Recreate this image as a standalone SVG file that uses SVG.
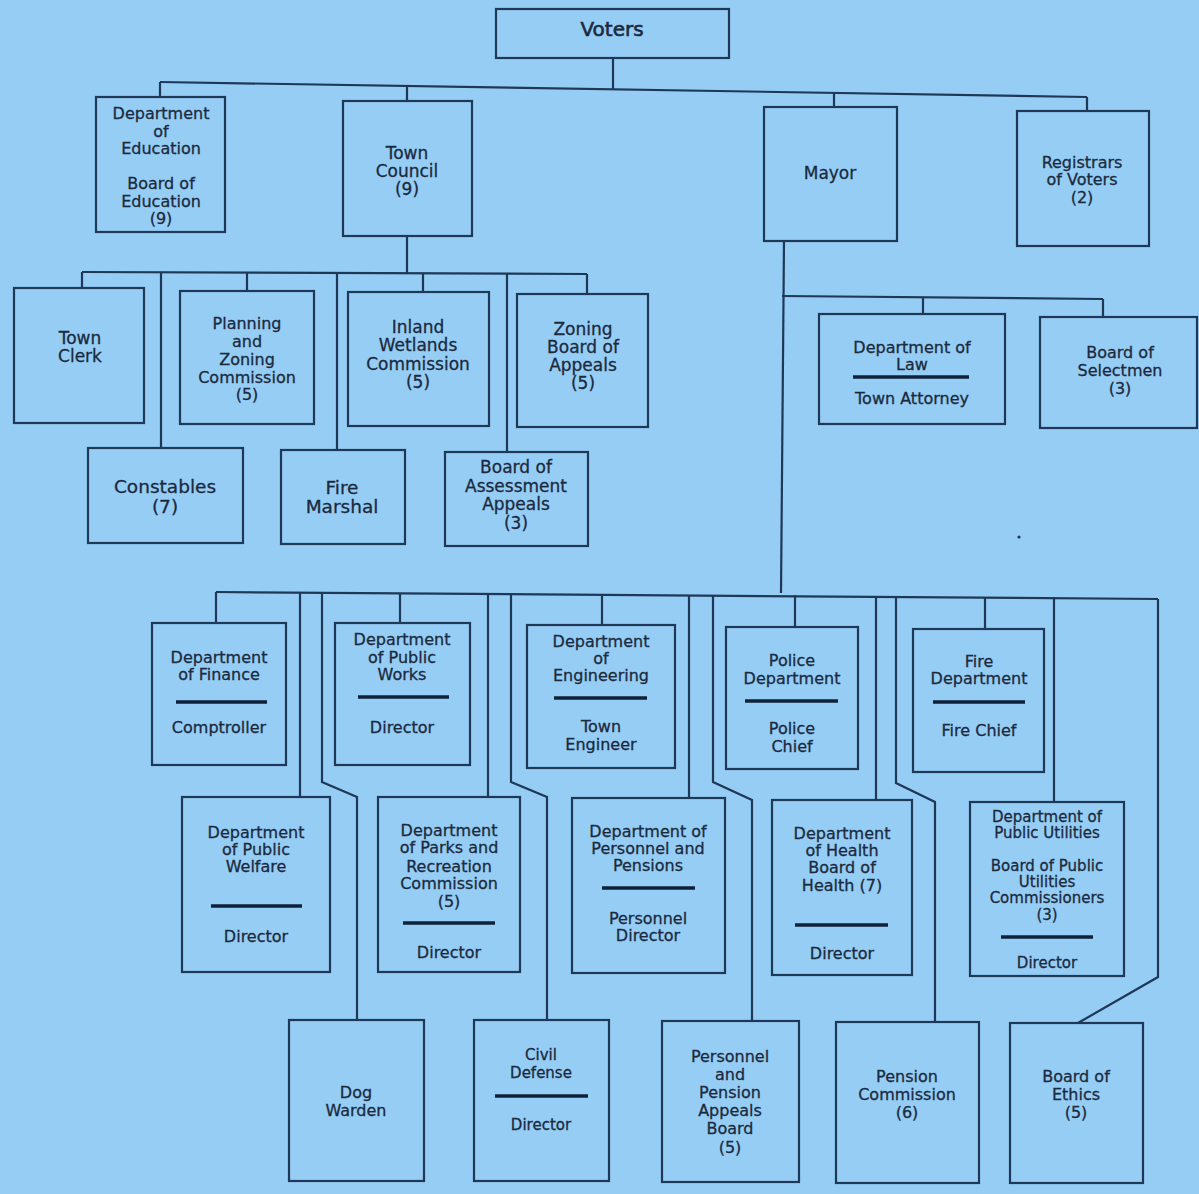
<svg xmlns="http://www.w3.org/2000/svg" width="1199" height="1194" viewBox="0 0 1199 1194">
<style>
.bx{fill:none;stroke:#1e3856;stroke-width:2.2}
.ln{fill:none;stroke:#1e3856;stroke-width:2.2;stroke-linejoin:miter}
.rule{stroke:#0f2138;stroke-width:3.5}
text{font-family:"DejaVu Sans","Liberation Sans",sans-serif;font-size:16px;fill:#1b2a3d;stroke:#1b2a3d;stroke-width:0.3;text-anchor:middle}
.s17{font-size:17px}
.s15{font-size:15px}
.s18{font-size:18.5px}
.s20{font-size:20px;stroke-width:0.6}
</style>
<rect width="1199" height="1194" fill="#95cdf5"/>
<g id="connectors">
<path class="ln" d="M613,58 V89"/>
<path class="ln" d="M160,82 L1087,97"/>
<path class="ln" d="M160,82 V97"/>
<path class="ln" d="M407,86 V101"/>
<path class="ln" d="M834,93 V107"/>
<path class="ln" d="M1087,97 V111"/>
<path class="ln" d="M407,236 V273"/>
<path class="ln" d="M82,272 L587,274"/>
<path class="ln" d="M82,272 V288"/>
<path class="ln" d="M161,272 V448"/>
<path class="ln" d="M247,273 V291"/>
<path class="ln" d="M337,273 V450"/>
<path class="ln" d="M423,273 V292"/>
<path class="ln" d="M507,273 V452"/>
<path class="ln" d="M587,274 V294"/>
<path class="ln" d="M784,241 L781,593"/>
<path class="ln" d="M782,296 L1103,299"/>
<path class="ln" d="M923,297 V314"/>
<path class="ln" d="M1103,299 V317"/>
<path class="ln" d="M216,592 L1158,599"/>
<path class="ln" d="M216,592 V623"/>
<path class="ln" d="M300,593 V797"/>
<path class="ln" d="M322,593 V782 L357,797 V1020"/>
<path class="ln" d="M400,593 V623"/>
<path class="ln" d="M488,594 V797"/>
<path class="ln" d="M511,594 V782 L547,797 V1020"/>
<path class="ln" d="M602,594 V625"/>
<path class="ln" d="M689,595 V798"/>
<path class="ln" d="M713,595 V782 L752,800 V1021"/>
<path class="ln" d="M795,595 V627"/>
<path class="ln" d="M876,596 V800"/>
<path class="ln" d="M896,596 V783 L935,802 V1022"/>
<path class="ln" d="M985,597 V629"/>
<path class="ln" d="M1054,597 V802"/>
<path class="ln" d="M1158,599 V977 L1078,1023"/>
</g>
<g id="n-voters"><rect class="bx" x="496" y="9" width="233" height="49"/><text class="s20" x="612" y="36">Voters</text></g>
<g id="n-education"><rect class="bx" x="96" y="97" width="129" height="135"/>
<text x="161" y="118.5">Department</text><text x="161" y="136.5">of</text><text x="161" y="153.5">Education</text>
<text x="161" y="188.5">Board of</text><text x="161" y="206.5">Education</text><text x="161" y="223.5">(9)</text></g>
<g id="n-council"><rect class="bx" x="343" y="101" width="129" height="135"/>
<text class="s17" x="407" y="159">Town</text><text class="s17" x="407" y="177">Council</text><text class="s17" x="407" y="195">(9)</text></g>
<g id="n-mayor"><rect class="bx" x="764" y="107" width="133" height="134"/><text class="s17" x="830" y="179">Mayor</text></g>
<g id="n-registrars"><rect class="bx" x="1017" y="111" width="132" height="135"/>
<text x="1082" y="168">Registrars</text><text x="1082" y="185">of Voters</text><text x="1082" y="203">(2)</text></g>
<g id="n-clerk"><rect class="bx" x="14" y="288" width="130" height="135"/>
<text class="s17" x="80" y="344">Town</text><text class="s17" x="80" y="362">Clerk</text></g>
<g id="n-planning"><rect class="bx" x="180" y="291" width="134" height="133"/>
<text x="247" y="329">Planning</text><text x="247" y="347">and</text><text x="247" y="365">Zoning</text><text x="247" y="383">Commission</text><text x="247" y="400">(5)</text></g>
<g id="n-wetlands"><rect class="bx" x="348" y="292" width="141" height="134"/>
<text class="s17" x="418" y="333">Inland</text><text class="s17" x="418" y="351">Wetlands</text><text class="s17" x="418" y="370">Commission</text><text class="s17" x="418" y="388">(5)</text></g>
<g id="n-zba"><rect class="bx" x="517" y="294" width="131" height="133"/>
<text class="s17" x="583" y="335">Zoning</text><text class="s17" x="583" y="353">Board of</text><text class="s17" x="583" y="371">Appeals</text><text class="s17" x="583" y="389">(5)</text></g>
<g id="n-constables"><rect class="bx" x="88" y="448" width="155" height="95"/>
<text class="s18" x="165" y="492.5">Constables</text><text class="s18" x="165" y="512.5">(7)</text></g>
<g id="n-firemarshal"><rect class="bx" x="281" y="450" width="124" height="94"/>
<text class="s18" x="342" y="494">Fire</text><text class="s18" x="342" y="513">Marshal</text></g>
<g id="n-baa"><rect class="bx" x="445" y="452" width="143" height="94"/>
<text class="s17" x="516" y="473">Board of</text><text class="s17" x="516" y="492">Assessment</text><text class="s17" x="516" y="510">Appeals</text><text class="s17" x="516" y="529">(3)</text></g>
<g id="n-law"><rect class="bx" x="819" y="314" width="186" height="110"/>
<text x="912" y="353">Department of</text><text x="912" y="370">Law</text>
<line class="rule" x1="853" y1="377" x2="969" y2="377"/><text x="912" y="404">Town Attorney</text></g>
<g id="n-selectmen"><rect class="bx" x="1040" y="317" width="157" height="111"/>
<text x="1120" y="358">Board of</text><text x="1120" y="376">Selectmen</text><text x="1120" y="394">(3)</text></g>
<circle cx="1019" cy="537" r="1.6" fill="#1e3856"/>
<g id="n-finance"><rect class="bx" x="152" y="623" width="134" height="142"/>
<text x="219" y="662.5">Department</text><text x="219" y="679.5">of Finance</text>
<line class="rule" x1="176" y1="702" x2="267" y2="702"/><text x="219" y="732.5">Comptroller</text></g>
<g id="n-works"><rect class="bx" x="335" y="623" width="135" height="142"/>
<text x="402" y="644.5">Department</text><text x="402" y="662.5">of Public</text><text x="402" y="679.5">Works</text>
<line class="rule" x1="358" y1="697" x2="449" y2="697"/><text x="402" y="732.5">Director</text></g>
<g id="n-engineering"><rect class="bx" x="527" y="625" width="148" height="143"/>
<text x="601" y="646.5">Department</text><text x="601" y="663.5">of</text><text x="601" y="680.5">Engineering</text>
<line class="rule" x1="554" y1="698" x2="647" y2="698"/><text x="601" y="731.5">Town</text><text x="601" y="749.5">Engineer</text></g>
<g id="n-police"><rect class="bx" x="726" y="627" width="132" height="142"/>
<text x="792" y="665.5">Police</text><text x="792" y="683.5">Department</text>
<line class="rule" x1="745" y1="701" x2="838" y2="701"/><text x="792" y="733.5">Police</text><text x="792" y="751.5">Chief</text></g>
<g id="n-firedept"><rect class="bx" x="913" y="629" width="131" height="143"/>
<text x="979" y="666.5">Fire</text><text x="979" y="683.5">Department</text>
<line class="rule" x1="933" y1="702" x2="1025" y2="702"/><text x="979" y="735.5">Fire Chief</text></g>
<g id="n-welfare"><rect class="bx" x="182" y="797" width="148" height="175"/>
<text x="256" y="837.5">Department</text><text x="256" y="854.5">of Public</text><text x="256" y="871.5">Welfare</text>
<line class="rule" x1="211" y1="906" x2="302" y2="906"/><text x="256" y="941.5">Director</text></g>
<g id="n-parks"><rect class="bx" x="378" y="797" width="142" height="175"/>
<text x="449" y="835.5">Department</text><text x="449" y="852.5">of Parks and</text><text x="449" y="871.5">Recreation</text><text x="449" y="888.5">Commission</text><text x="449" y="906.5">(5)</text>
<line class="rule" x1="403" y1="923" x2="495" y2="923"/><text x="449" y="957.5">Director</text></g>
<g id="n-personnel"><rect class="bx" x="572" y="798" width="153" height="175"/>
<text x="648" y="836.5">Department of</text><text x="648" y="853.5">Personnel and</text><text x="648" y="870.5">Pensions</text>
<line class="rule" x1="602" y1="888" x2="695" y2="888"/><text x="648" y="923.5">Personnel</text><text x="648" y="940.5">Director</text></g>
<g id="n-health"><rect class="bx" x="772" y="800" width="140" height="175"/>
<text x="842" y="838.5">Department</text><text x="842" y="855.5">of Health</text><text x="842" y="872.5">Board of</text><text x="842" y="890.5">Health (7)</text>
<line class="rule" x1="795" y1="925" x2="888" y2="925"/><text x="842" y="958.5">Director</text></g>
<g id="n-utilities"><rect class="bx" x="970" y="802" width="154" height="174"/>
<text class="s15" x="1047" y="822">Department of</text><text class="s15" x="1047" y="838">Public Utilities</text>
<text class="s15" x="1047" y="871">Board of Public</text><text class="s15" x="1047" y="887">Utilities</text><text class="s15" x="1047" y="903">Commissioners</text><text class="s15" x="1047" y="920">(3)</text>
<line class="rule" x1="1001" y1="937" x2="1093" y2="937"/><text class="s15" x="1047" y="968">Director</text></g>
<g id="n-dogwarden"><rect class="bx" x="289" y="1020" width="135" height="161"/>
<text x="356" y="1097.5">Dog</text><text x="356" y="1115.5">Warden</text></g>
<g id="n-civildefense"><rect class="bx" x="474" y="1020" width="135" height="161"/>
<text class="s15" x="541" y="1060">Civil</text><text class="s15" x="541" y="1078">Defense</text>
<line class="rule" x1="495" y1="1096" x2="588" y2="1096"/><text class="s15" x="541" y="1130">Director</text></g>
<g id="n-ppab"><rect class="bx" x="662" y="1021" width="137" height="161"/>
<text x="730" y="1061.5">Personnel</text><text x="730" y="1079.5">and</text><text x="730" y="1097.5">Pension</text><text x="730" y="1115.5">Appeals</text><text x="730" y="1133.5">Board</text><text x="730" y="1152.5">(5)</text></g>
<g id="n-pensioncomm"><rect class="bx" x="836" y="1022" width="143" height="161"/>
<text x="907" y="1081.5">Pension</text><text x="907" y="1099.5">Commission</text><text x="907" y="1117.5">(6)</text></g>
<g id="n-ethics"><rect class="bx" x="1010" y="1023" width="133" height="160"/>
<text x="1076" y="1081.5">Board of</text><text x="1076" y="1099.5">Ethics</text><text x="1076" y="1117.5">(5)</text></g>
</svg>
